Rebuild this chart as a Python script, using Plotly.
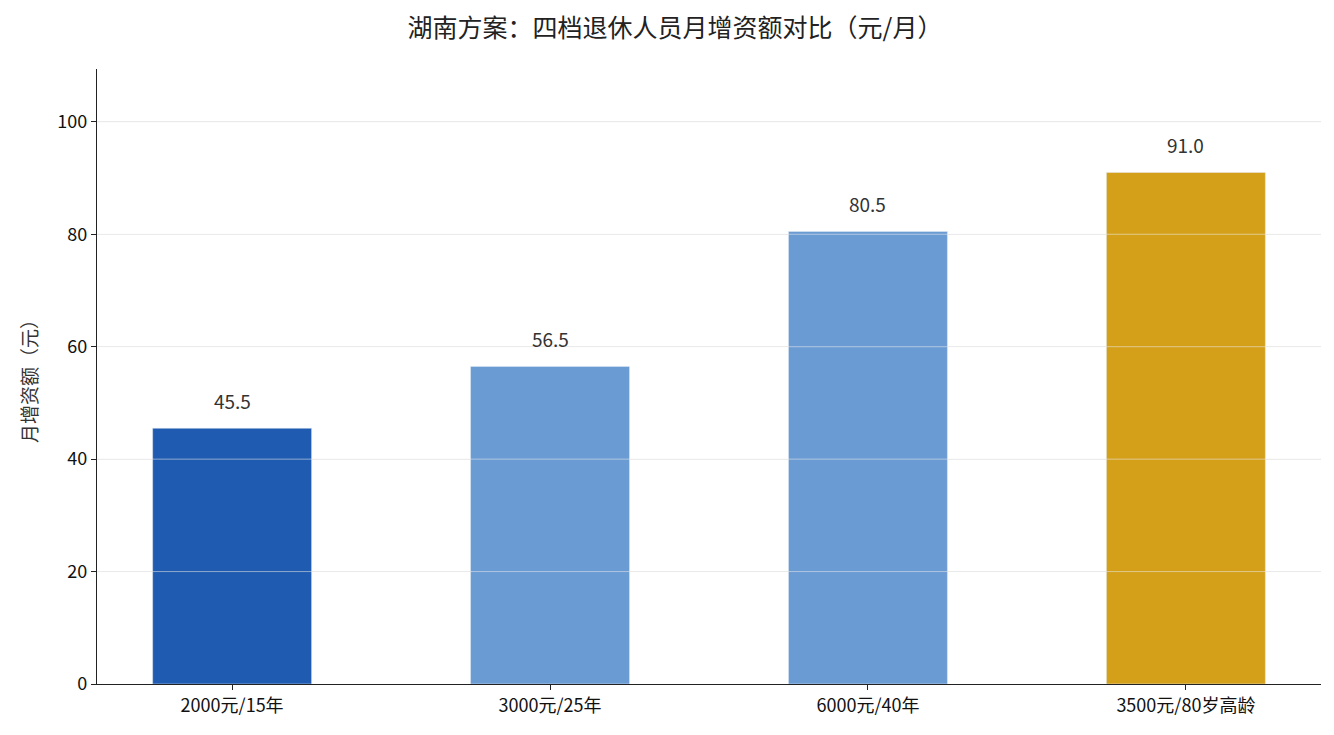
import plotly.graph_objects as go

categories = ["2000元/15年", "3000元/25年", "6000元/40年", "3500元/80岁高龄"]
values = [45.5, 56.5, 80.5, 91.0]
colors = ["#1f5bb0", "#6b9bd3", "#6b9bd3", "#d4a01a"]
yticks = [0, 20, 40, 60, 80, 100]

fig = go.Figure(go.Bar(x=categories, y=values, marker_color=colors, width=0.5))
for c, v in zip(categories, values):
    fig.add_annotation(x=c, y=v, text=f"{v:.1f}", showarrow=False, yanchor="bottom",
                       yshift=12, font=dict(size=19, color="#333333"))
for t in yticks[1:]:
    fig.add_shape(type="line", xref="paper", x0=0, x1=1, y0=t, y1=t,
                  line=dict(color="rgba(235,235,235,0.55)", width=1), layer="above")
fig.update_layout(
    width=1334, height=735,
    margin=dict(l=89, r=21, t=61, b=59),
    plot_bgcolor="white", paper_bgcolor="white",
    font=dict(family="Noto Sans CJK SC", size=17, color="#111111"),
    title=dict(text="湖南方案：四档退休人员月增资额对比（元/月）", x=0.5, xanchor="center",
               y=0.972, yanchor="middle", font=dict(size=25, color="#222222")),
    showlegend=False,
)
fig.update_xaxes(range=[-0.425, 3.425], showline=True, linecolor="#222222", linewidth=1.3,
                 ticks="outside", ticklen=5, tickcolor="#222222", tickfont=dict(size=18))
fig.update_yaxes(range=[0, 109.4], tickvals=yticks, showline=True, linecolor="#222222",
                 linewidth=1.3, ticks="outside", ticklen=5, tickcolor="#222222",
                 gridcolor="#ebebeb", zeroline=False, tickfont=dict(size=18),
                 title=dict(text="月增资额（元）", font=dict(size=19, color="#333333"), standoff=14))
fig.write_html("out.html")
